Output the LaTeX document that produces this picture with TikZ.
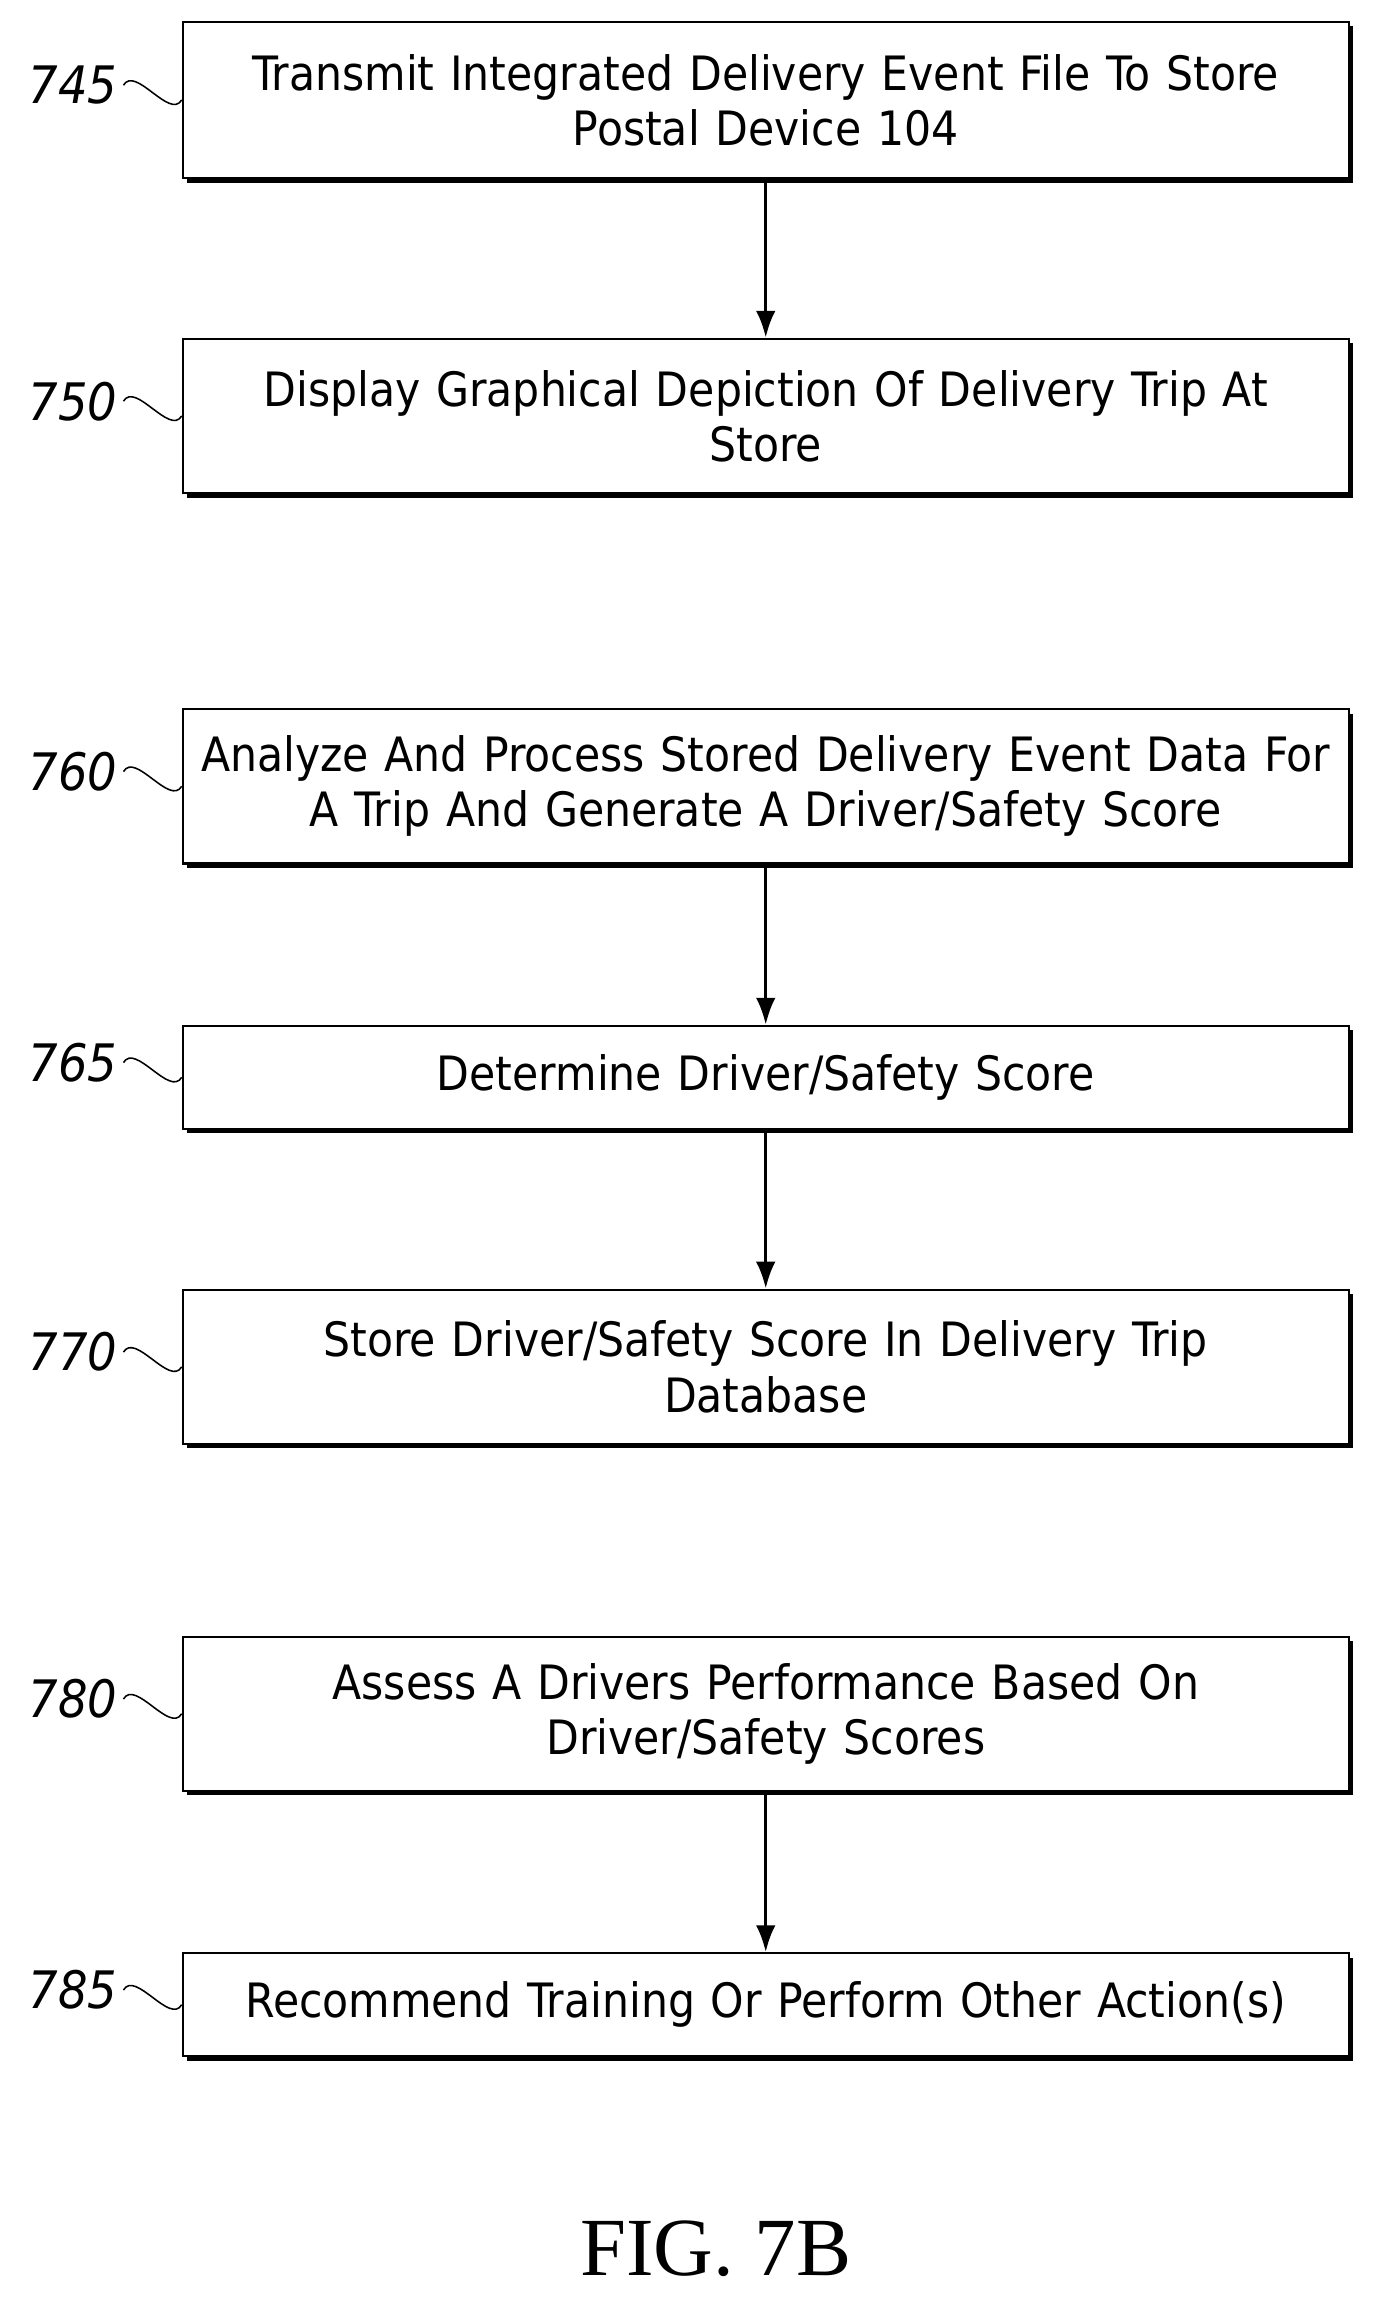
\documentclass[tikz,border=0pt]{standalone}
\usepackage{fontspec}
\setmainfont{DejaVu Sans Condensed}
\newfontfamily\figfont{Liberation Serif}
\usetikzlibrary{positioning, shadows, arrows.meta}

\tikzset{
	stepbox/.style={draw, line width=1.2pt, fill=white, minimum width=23.8cm, text width=23.4cm,
		align=center, font=\fontsize{27.5}{32}\selectfont, inner sep=0pt,
		drop shadow={shadow xshift=0.09cm, shadow yshift=-0.09cm, fill=black, opacity=1}},
	num/.style={font=\fontsize{30}{34}\selectfont\itshape, anchor=east},
	tilde/.style={line width=0.9pt, out=60, in=240},
	flow/.style={-{Latex[length=0.55cm,width=0.4cm]}, line width=2pt}
}

\begin{document}
\begin{tikzpicture}[x=0.03cm, y=0.03cm]
	\useasboundingbox (0,0) rectangle (935,-1569);
	\fill[white] (0,0) rectangle (935,-1569);
	% boxes
	\node[stepbox, minimum height=3.2cm] (b745) at (521,-68) {Transmit Integrated Delivery Event File To Store\\Postal Device 104};
	\node[stepbox, minimum height=3.15cm] (b750) at (521,-283) {Display Graphical Depiction Of Delivery Trip At\\Store};
	\node[stepbox, minimum height=3.15cm] (b760) at (521,-535) {Analyze And Process Stored Delivery Event Data For\\A Trip And Generate A Driver/Safety Score};
	\node[stepbox, minimum height=2.1cm] (b765) at (521,-733) {Determine Driver/Safety Score};
	\node[stepbox, minimum height=3.15cm] (b770) at (521,-930) {Store Driver/Safety Score In Delivery Trip\\Database};
	\node[stepbox, minimum height=3.15cm] (b780) at (521,-1166) {Assess A Drivers Performance Based On\\Driver/Safety Scores};
	\node[stepbox, minimum height=2.1cm] (b785) at (521,-1364) {Recommend Training Or Perform Other Action(s)};
	% reference numbers
	\node[num] (l745) at (84,-58) {745};
	\node[num] (l750) at (84,-273) {750};
	\node[num] (l760) at (84,-525) {760};
	\node[num] (l765) at (84,-723) {765};
	\node[num] (l770) at (84,-920) {770};
	\node[num] (l780) at (84,-1156) {780};
	\node[num] (l785) at (84,-1354) {785};
	\foreach \n in {745,750,760,765,770,780,785}
		\draw[tilde] (l\n.east) to (b\n.west);
	% arrows
	\draw[flow] (b745) -- (b750);
	\draw[flow] (b760) -- (b765);
	\draw[flow] (b765) -- (b770);
	\draw[flow] (b780) -- (b785);
	\node[font=\figfont\fontsize{48}{54}\selectfont] (fig) at (487,-1530) {FIG. 7B};
\end{tikzpicture}
\end{document}
